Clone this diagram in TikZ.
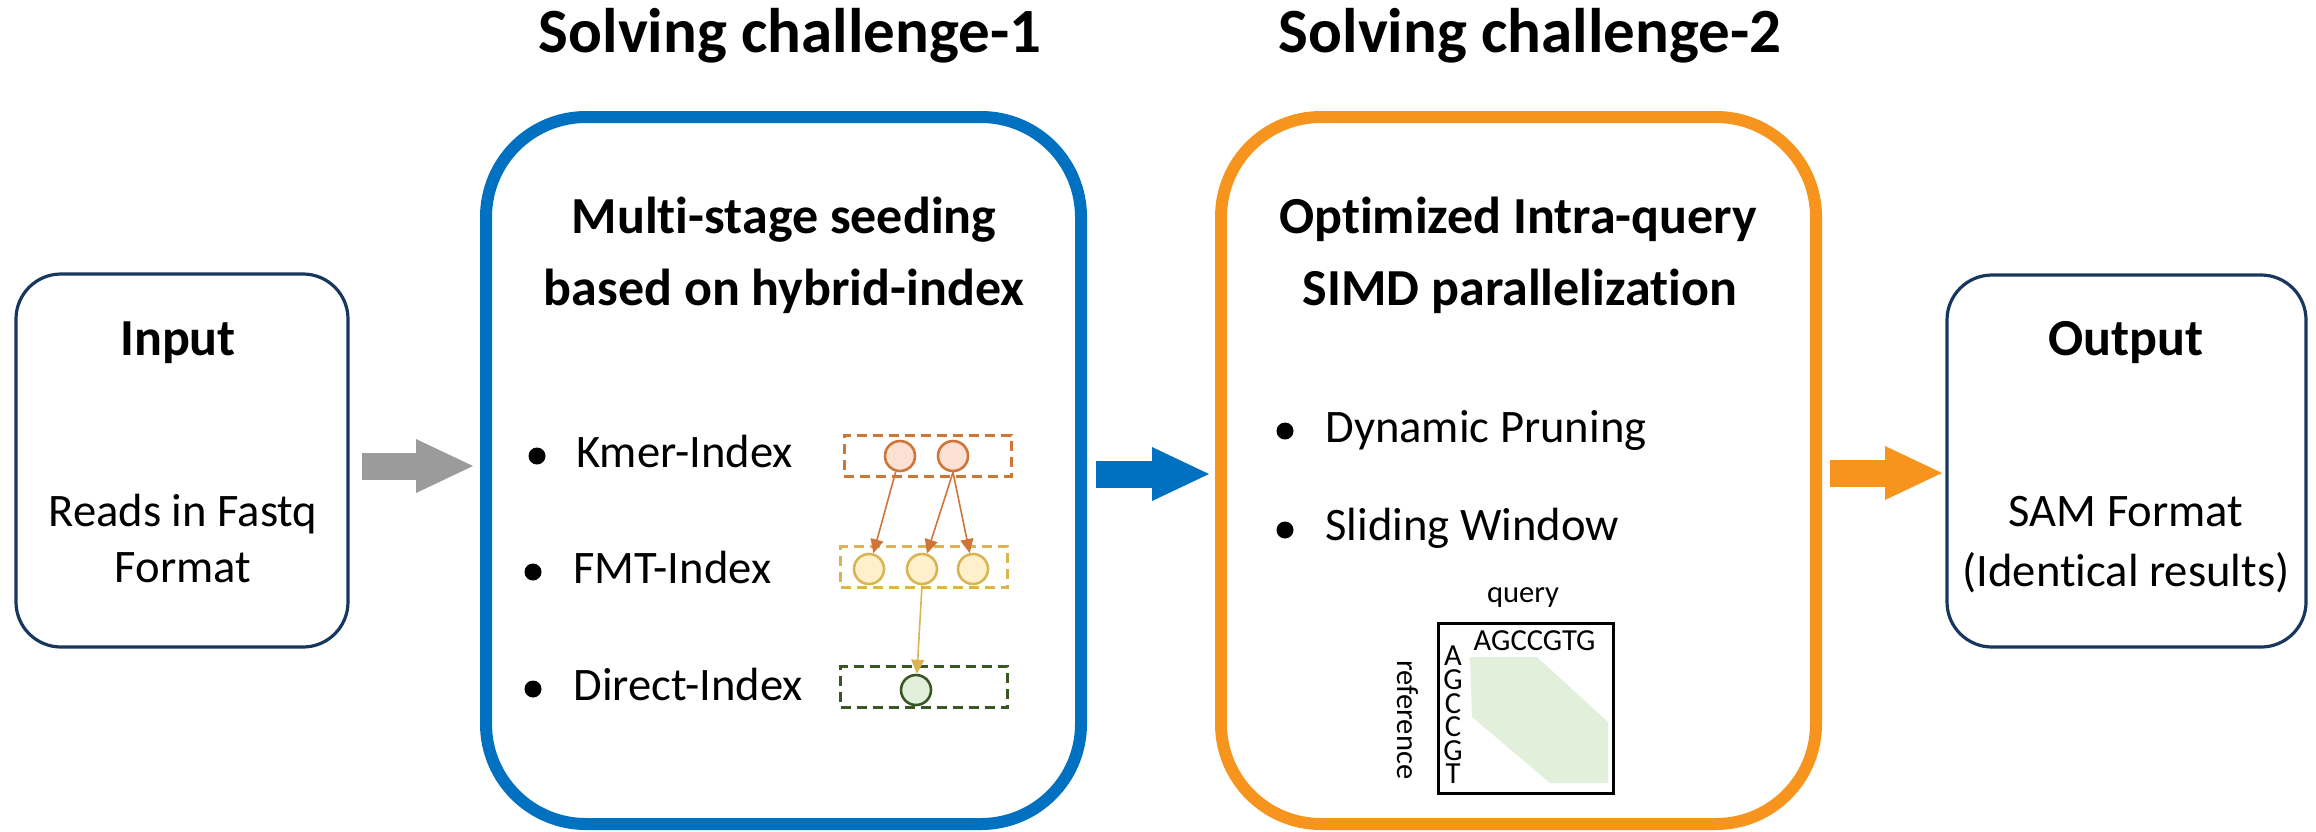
\documentclass[tikz,border=0pt]{standalone}
\usepackage{fontspec}
\setmainfont{Carlito}[Ligatures=NoCommon]
\usetikzlibrary{arrows.meta,calc}

\definecolor{navy}{RGB}{23,55,94}
\definecolor{cblue}{RGB}{0,112,192}
\definecolor{corange}{RGB}{247,148,29}
\definecolor{arrgray}{RGB}{155,155,155}
\definecolor{kmerline}{RGB}{208,117,56}
\definecolor{kmerfill}{RGB}{251,224,212}
\definecolor{fmtline}{RGB}{216,181,82}
\definecolor{fmtfill}{RGB}{255,240,204}
\definecolor{dirline}{RGB}{56,87,35}
\definecolor{dirfill}{RGB}{226,239,218}
\definecolor{bandfill}{RGB}{226,239,218}

\begin{document}
\begin{tikzpicture}[x=0.5pt,y=-0.5pt,
  iobox/.style={draw=navy, line width=1.6pt, rounded corners=22.5pt, outer sep=0pt, inner sep=0pt},
  stagebox/.style={line width=6pt, rounded corners=50pt, outer sep=0pt, inner sep=0pt,
    minimum width=297.5pt, minimum height=353.5pt},
  ttl/.style={font=\fontsize{31.5}{38}\selectfont\bfseries, anchor=base, inner sep=0pt},
  hd/.style={font=\fontsize{26}{31}\selectfont\bfseries, anchor=base, inner sep=0pt},
  txt/.style={font=\fontsize{23.3}{28}\selectfont, anchor=base, inner sep=0pt},
  itm/.style={txt, anchor=base west},
  bulletdot/.style={circle, fill=black, inner sep=0pt, minimum size=8.5pt},
  smalltxt/.style={font=\fontsize{15.3}{18}\selectfont, inner sep=0pt},
  idxlevel/.style={draw, dash pattern=on 5pt off 3pt, line width=1.5pt,
    minimum width=83.5pt, minimum height=20.5pt, inner sep=0pt},
  seed/.style={circle, line width=1.3pt, minimum size=15pt, inner sep=0pt},
  link/.style={line width=0.8pt, -{Triangle[length=7pt,width=6.5pt]}},
  blockarrow/.style={line width=13.5pt, -{Triangle[length=28.5pt,width=27pt,line width=0pt]}},
]
\useasboundingbox (0,0) rectangle (2316,831);

% main boxes
\node[iobox, minimum width=166pt, minimum height=186.5pt] (input) at (182,460.5) {};
\node[iobox, minimum width=179.5pt, minimum height=186pt] (output) at (2126.5,461) {};
\node[stagebox, draw=cblue] (seeding) at (783.5,470.5) {};
\node[stagebox, draw=corange] (align) at (1518.5,470.5) {};

% titles above the stage boxes
\node[ttl] (t1) at (790,52) {Solving challenge-1};
\node[ttl] (t2) at (1530,52) {Solving challenge-2};

% input / output texts
\node[hd] (inhead) at (178,355) {Input};
\node[txt] (in1) at (183,526) {Reads in Fastq};
\node[txt] (in2) at (183,582) {Format};
\node[hd] (outhead) at (2126,355) {Output};
\node[txt] (out1) at (2126,526) {SAM Format};
\node[txt] (out2) at (2126,586) {(Identical results)};

% stage headings
\node[hd] (s1a) at (784,233) {Multi-stage seeding};
\node[hd] (s1b) at (784,305) {based on hybrid-index};
\node[hd] (s2a) at (1518,233) {Optimized Intra-query};
\node[hd] (s2b) at (1520,305) {SIMD parallelization};

% bullet lists
\node[bulletdot] (b1) at (537,456) {};
\node[itm] (kmer) at (576,467) {Kmer-Index};
\node[bulletdot] (b2) at (533,572) {};
\node[itm] (fmt) at (573,583) {FMT-Index};
\node[bulletdot] (b3) at (533,689) {};
\node[itm] (direct) at (573,700) {Direct-Index};
\node[bulletdot] (b4) at (1285,431) {};
\node[itm] (prune) at (1325,442) {Dynamic Pruning};
\node[bulletdot] (b5) at (1285,530) {};
\node[itm] (window) at (1325,540) {Sliding Window};

% hybrid index levels
\node[idxlevel, draw=kmerline] (klev) at (927.5,455.5) {};
\node[idxlevel, draw=fmtline] (flev) at (924,567) {};
\node[idxlevel, draw=dirline] (dlev) at (924,687) {};
\node[seed, draw=kmerline, fill=kmerfill] (k1) at (900,456) {};
\node[seed, draw=kmerline, fill=kmerfill] (k2) at (953,456) {};
\node[seed, draw=fmtline, fill=fmtfill] (f1) at (869,569) {};
\node[seed, draw=fmtline, fill=fmtfill] (f2) at (922,569) {};
\node[seed, draw=fmtline, fill=fmtfill] (f3) at (973,569) {};
\node[seed, draw=dirline, fill=dirfill] (d1) at (916,690) {};
\draw[link, kmerline] (k1) -- (f1);
\draw[link, kmerline] (k2.south) -- (f2);
\draw[link, kmerline] (k2.south) -- (f3);
\draw[link, fmtline] (f2.south) -- (d1);

% banded alignment matrix
\node[smalltxt, anchor=base] (qlabel) at (1523,602) {query};
\node[draw, line width=1.5pt, minimum width=87.5pt, minimum height=85pt, inner sep=0pt] (dp) at (1525.5,708) {};
\fill[bandfill] (1470,657) -- (1537,657) -- (1608,722) -- (1608,783) -- (1550,783) -- (1472,717) -- cycle;
\node[smalltxt, anchor=base] (qseq) at (1534.5,650) {AGCCGTG};
\node[smalltxt, align=center, font=\fontsize{15.3}{11.8}\selectfont] (rseq) at (1453,715) {A\\G\\C\\C\\G\\T};
\node[smalltxt, rotate=-90] (rlabel) at (1408,720) {reference};

% block arrows between the stages
\draw[blockarrow, arrgray] ($(input.east)+(14,5.5)$) -- ($(seeding.west)+(-13,-4.5)$);
\draw[blockarrow, cblue] ($(seeding.east)+(15,3.5)$) -- ($(align.west)+(-12,3.5)$);
\draw[blockarrow, corange] ($(align.east)+(14,2.5)$) -- ($(output.west)+(-5,12)$);
\end{tikzpicture}
\end{document}
